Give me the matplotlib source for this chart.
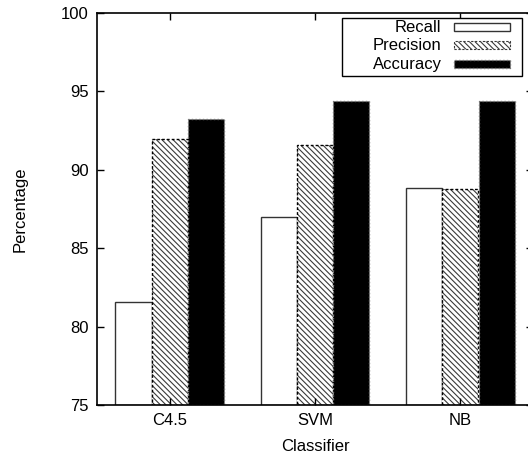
import numpy as np
import matplotlib
matplotlib.use('Agg')
import matplotlib.pyplot as plt
from matplotlib.patches import Rectangle

# プロット初期設定
plt.rcParams['font.family'] = ['Liberation Sans', 'DejaVu Sans']
plt.rcParams['font.size'] = 12
plt.rcParams['xtick.direction'] = 'in'
plt.rcParams['ytick.direction'] = 'in'
plt.rcParams['hatch.linewidth'] = 0.8

classifiers = ['C4.5', 'SVM', 'NB']
series_names = ['Recall', 'Precision', 'Accuracy']
recall = [81.6, 87.0, 88.85]
precision = [91.95, 91.6, 88.75]
accuracy = [93.25, 94.4, 94.4]

fig = plt.figure(figsize=(5.28, 4.61), dpi=100)
ax = fig.add_axes([97 / 528, 56 / 461, 436 / 528, 392 / 461])

x = np.arange(len(classifiers))
w = 0.25
hatch = '\\' * 6

# Recall
ax.bar(x - w, np.array(recall) - 75, w, bottom=75, color='white',
       edgecolor='#333333', linewidth=1.0)
# Precision
ax.bar(x, np.array(precision) - 75, w, bottom=75, color='white',
       edgecolor='#3a3a3a', hatch=hatch, linewidth=0)
ax.bar(x, np.array(precision) - 75, w, bottom=75, fill=False,
       edgecolor='black', linestyle=(0, (2, 1.5)), linewidth=1.0)
# Accuracy
ax.bar(x + w, np.array(accuracy) - 75, w, bottom=75, color='black',
       edgecolor='#777777', linestyle=':', linewidth=1.0)

ax.set_xlim(-0.5, 2.5)
ax.set_ylim(75, 100)
ax.set_xticks(x)
ax.set_xticklabels(classifiers)
ax.set_yticks(np.arange(75, 101, 5))
ax.tick_params(top=True, right=True, length=5, width=1, pad=6)
for s in ax.spines.values():
    s.set_linewidth(1.2)
ax.set_xlabel('Classifier', labelpad=8)
ax.set_ylabel('Percentage', labelpad=24)

# 凡例 (gnuplot風)
def px(xp, yp):
    return ((xp - 97) / 436, (405 - yp) / 392)

fx0, fy0 = px(341.7, 75.7)
fx1, fy1 = px(522.3, 18.3)
ax.add_patch(Rectangle((fx0, fy0), fx1 - fx0, fy1 - fy0, transform=ax.transAxes,
                       facecolor='white', edgecolor='black', linewidth=1.0, zorder=5))
rows_y = [27.0, 45.5, 64.0]
styles = [
    dict(facecolor='white', edgecolor='#333333', linewidth=1.0),
    dict(facecolor='white', edgecolor='#3a3a3a', hatch=hatch, linewidth=0.8, linestyle=(0, (2, 1.5))),
    dict(facecolor='black', edgecolor='#777777', linewidth=1.0, linestyle=':'),
]
for name, yp, st in zip(series_names, rows_y, styles):
    tx, ty = px(441.5, yp)
    ax.text(tx, ty, name, transform=ax.transAxes, ha='right', va='center', zorder=6)
    sx0, sy0 = px(453.5, yp + 4)
    sx1, sy1 = px(510.0, yp - 4)
    ax.add_patch(Rectangle((sx0, sy0), sx1 - sx0, sy1 - sy0, transform=ax.transAxes,
                           zorder=6, **st))

fig.savefig('out.png', dpi=100)
